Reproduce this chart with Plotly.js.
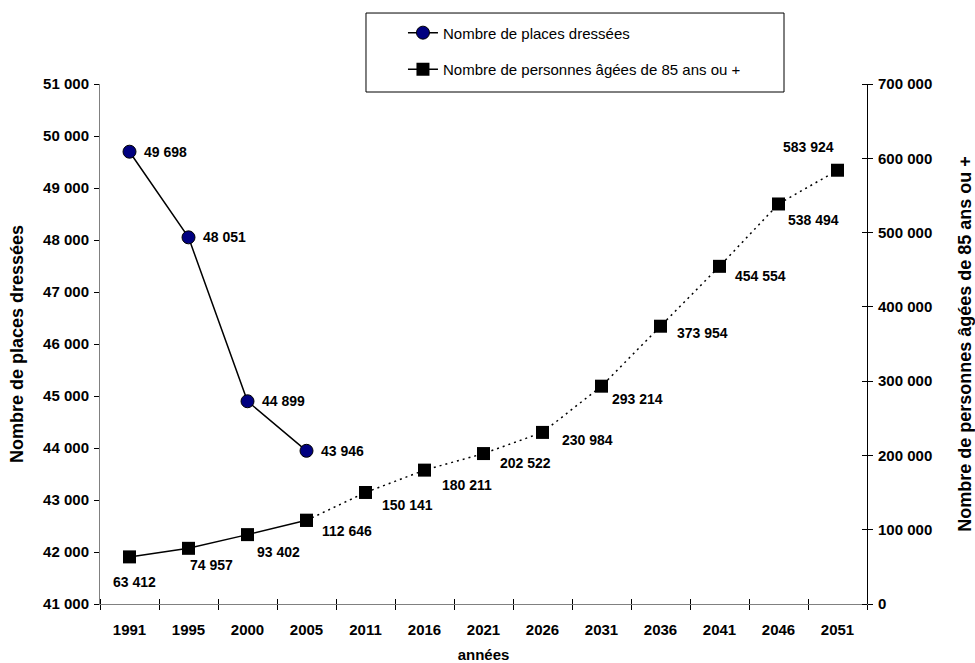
<!DOCTYPE html>
<html>
<head>
<meta charset="utf-8">
<script src="https://cdn.plot.ly/plotly-3.0.1.min.js"></script>
<style>
  html, body { margin: 0; padding: 0; background: #ffffff; }
  #chart { width: 975px; height: 663px; }
</style>
</head>
<body>
<div id="chart"></div>
<script>
// Years on the category axis
const years = ['1991', '1995', '2000', '2005', '2011', '2016', '2021', '2026', '2031', '2036', '2041', '2046', '2051'];

// Beds available (left axis), observed years only
const placeYears = ['1991', '1995', '2000', '2005'];
const placeValues = [49698, 48051, 44899, 43946];

// People aged 85 or over (right axis)
const ageValues = [63412, 74957, 93402, 112646, 150141, 180211, 202522, 230984, 293214, 373954, 454554, 538494, 583924];

// Index where the projected (dotted) part of the age series begins
const projStart = 3;

const seriesNames = ['Nombre de places dressées', 'Nombre de personnes âgées de 85 ans ou +'];
const axisTitles = { left: 'Nombre de places dressées', right: 'Nombre de personnes âgées de 85 ans ou +', x: 'années' };

// Label placement in pixels relative to each marker: [dx, dy, anchor]
const placeLabelOffsets = [[12, 0], [12, 0], [12, 0], [12, 0]];
const ageLabelOffsets = [
  [5, 25, 'center'], [-1, 17, 'left'], [7, 17, 'left'], [13, 11, 'left'],
  [14, 13, 'left'], [15, 15, 'left'], [14, 9, 'left'], [17, 8, 'left'],
  [8, 13, 'left'], [14, 7, 'left'], [13, 10, 'left'], [7, 16, 'left'],
  [-29, -23, 'center']
];

const FONT = 'Liberation Sans, Arial, Helvetica, sans-serif';
const fmt = v => String(v).replace(/\B(?=(\d{3})+(?!\d))/g, ' ');
// Category axes place annotations by category index
const catIndex = yr => years.indexOf(yr);

const traces = [
  {
    x: placeYears, y: placeValues, name: seriesNames[0],
    type: 'scatter', mode: 'lines+markers', xaxis: 'x', yaxis: 'y',
    line: { color: '#000000', width: 1.5 },
    marker: { symbol: 'circle', size: 13, color: '#000080', line: { color: '#000000', width: 1 } },
    legendgroup: 'a', cliponaxis: false
  },
  {
    x: years.slice(projStart), y: ageValues.slice(projStart), name: seriesNames[1],
    type: 'scatter', mode: 'lines+markers', xaxis: 'x', yaxis: 'y2',
    line: { color: '#000000', width: 1.5, dash: '2px,4px' },
    marker: { symbol: 'square', size: 13, color: '#000000' },
    showlegend: false, legendgroup: 'b', cliponaxis: false
  },
  {
    x: years.slice(0, projStart + 1), y: ageValues.slice(0, projStart + 1), name: seriesNames[1],
    type: 'scatter', mode: 'lines+markers', xaxis: 'x', yaxis: 'y2',
    line: { color: '#000000', width: 1.5 },
    marker: { symbol: 'square', size: 13, color: '#000000' },
    legendgroup: 'b', cliponaxis: false
  },
  // Invisible carriers for the inner halves of the crossing tick marks
  { x: [0], y: [placeValues[0]], xaxis: 'x2', yaxis: 'y', type: 'scatter', mode: 'markers',
    marker: { opacity: 0 }, showlegend: false, hoverinfo: 'skip' },
  { x: [years[0]], y: [ageValues[0]], xaxis: 'x', yaxis: 'y3', type: 'scatter', mode: 'markers',
    marker: { opacity: 0 }, showlegend: false, hoverinfo: 'skip' }
];

const annotations = [];
placeYears.forEach((yr, i) => {
  annotations.push({
    x: catIndex(yr), y: placeValues[i], xref: 'x', yref: 'y', text: fmt(placeValues[i]),
    showarrow: false, xanchor: 'left', yanchor: 'middle',
    xshift: placeLabelOffsets[i][0], yshift: -placeLabelOffsets[i][1],
    font: { family: FONT, size: 14, color: '#000000', weight: 'bold' }
  });
});
years.forEach((yr, i) => {
  const o = ageLabelOffsets[i];
  annotations.push({
    x: catIndex(yr), y: ageValues[i], xref: 'x', yref: 'y2', text: fmt(ageValues[i]),
    showarrow: false, xanchor: o[2], yanchor: 'middle',
    xshift: o[0], yshift: -o[1],
    font: { family: FONT, size: 14, color: '#000000', weight: 'bold' }
  });
});

const tickFont = { family: FONT, size: 15, color: '#000000', weight: 'bold' };

const layout = {
  width: 975, height: 663,
  paper_bgcolor: '#ffffff', plot_bgcolor: '#ffffff',
  margin: { l: 100, r: 108, t: 84, b: 59 },
  separators: ', ',
  font: { family: FONT, size: 12, color: '#000000' },
  showlegend: true,
  legend: {
    x: 0.395, xanchor: 'left', y: 1.13, yanchor: 'top',
    bgcolor: 'rgba(0,0,0,0)', borderwidth: 0,
    traceorder: 'grouped', tracegroupgap: 14,
    font: { family: FONT, size: 15, color: '#000000' }
  },
  xaxis: {
    type: 'category', categoryorder: 'array', categoryarray: years,
    range: [-0.5, years.length - 0.5],
    showgrid: false, zeroline: false,
    showline: true, linecolor: '#808080', linewidth: 1,
    ticks: 'outside', tickson: 'boundaries', ticklen: 5, tickcolor: '#000000', tickwidth: 1,
    ticklabelstandoff: 12,
    tickfont: tickFont,
    title: { text: axisTitles.x, font: { family: FONT, size: 15, weight: 'bold' }, standoff: 12 }
  },
  xaxis2: {
    overlaying: 'x', type: 'linear', range: [-0.5, years.length - 0.5],
    side: 'top', anchor: 'free', position: 0,
    tickmode: 'linear', tick0: -0.5, dtick: 1, ticks: 'outside', ticklen: 5, tickcolor: '#000000', tickwidth: 1,
    showticklabels: false, showgrid: false, zeroline: false, showline: false
  },
  yaxis: {
    range: [41000, 51000], dtick: 1000, tick0: 41000, tickformat: ',d',
    showgrid: false, zeroline: false,
    showline: true, linecolor: '#808080', linewidth: 1,
    ticks: 'outside', ticklen: 5, tickcolor: '#000000', tickwidth: 1,
    ticklabelstandoff: 2,
    tickfont: tickFont,
    title: { text: axisTitles.left, font: { family: FONT, size: 18, weight: 'bold' }, standoff: 14 }
  },
  yaxis2: {
    overlaying: 'y', side: 'right', anchor: 'x',
    range: [0, 700000], dtick: 100000, tick0: 0, tickformat: ',d',
    showgrid: false, zeroline: false,
    showline: true, linecolor: '#000000', linewidth: 1,
    ticks: 'outside', ticklen: 5, tickcolor: '#000000', tickwidth: 1,
    ticklabelstandoff: 2,
    tickfont: tickFont,
    title: { text: axisTitles.right, font: { family: FONT, size: 18, weight: 'bold' }, standoff: 28 }
  },
  yaxis3: {
    overlaying: 'y', side: 'left', anchor: 'free', position: 1,
    range: [0, 700000], tickmode: 'linear', dtick: 100000, tick0: 0,
    ticks: 'outside', ticklen: 5, tickcolor: '#000000', tickwidth: 1,
    showticklabels: false, showgrid: false, zeroline: false, showline: false
  },
  shapes: [{
    type: 'rect', xref: 'paper', yref: 'paper',
    x0: 0.3468, x1: 0.8918, y0: 0.9846, y1: 1.1365,
    line: { color: '#000000', width: 1 }, fillcolor: 'rgba(0,0,0,0)'
  }],
  annotations: annotations
};

Plotly.newPlot('chart', traces, layout, { staticPlot: true, displayModeBar: false });
</script>
</body>
</html>
